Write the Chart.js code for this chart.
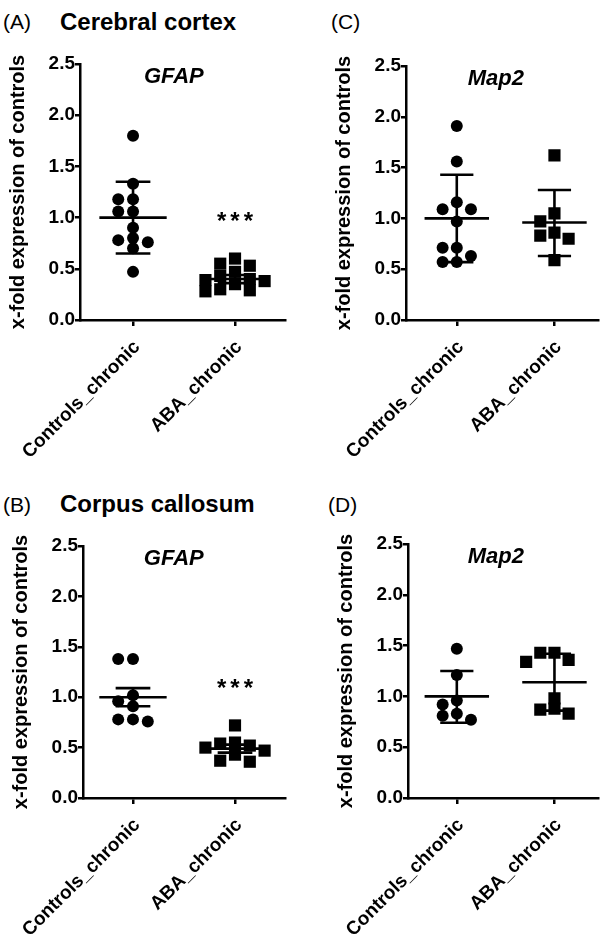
<!DOCTYPE html>
<html>
<head>
<meta charset="utf-8">
<script src="https://cdn.jsdelivr.net/npm/chart.js@4.4.1/dist/chart.umd.min.js"></script>
<style>
    body { margin: 0; background: #fff; }
    #fig { position: relative; width: 607px; height: 936px; overflow: hidden; font-family: Arial, "Liberation Sans", sans-serif; color: #000; }
    #fig canvas { position: absolute; }
    .tag { position: absolute; font-size: 21px; line-height: 21px; }
    .region { position: absolute; font-size: 24px; line-height: 24px; font-weight: bold; }
</style>
</head>
<body>
<div id="fig">
    <div class="tag" style="left:3px; top:11px;">(A)</div>
    <div class="region" style="left:60px; top:10px;">Cerebral cortex</div>
    <div class="tag" style="left:331px; top:11px;">(C)</div>
    <div class="tag" style="left:3px; top:494px;">(B)</div>
    <div class="region" style="left:60px; top:492px;">Corpus callosum</div>
    <div class="tag" style="left:328px; top:494px;">(D)</div>
    <canvas id="panelA" width="300" height="470" style="left:0; top:0;"></canvas>
    <canvas id="panelC" width="281" height="470" style="left:326px; top:0;"></canvas>
    <canvas id="panelB" width="297" height="466" style="left:3px; top:470px;"></canvas>
    <canvas id="panelD" width="279" height="466" style="left:328px; top:470px;"></canvas>
</div>
<script>
const FONT = 'Arial, "Liberation Sans", sans-serif';

// Categories and axis
const groups = ['Controls_chronic', 'ABA_chronic'];
const yTicks = [0, 0.5, 1.0, 1.5, 2.0, 2.5];
const yTitle = 'x-fold expression of controls';

// (A) Cerebral cortex - GFAP
const ctxGfapCtrl = [1.80, 1.33, 1.18, 1.18, 1.06, 1.06, 0.90, 0.80, 0.78, 0.76, 0.70, 0.47];
const ctxGfapAba = [0.60, 0.55, 0.53, 0.47, 0.43, 0.40, 0.39, 0.38, 0.35, 0.30, 0.29, 0.28];
const ctxGfapMean = [1.00, 0.40];
const ctxGfapErrHi = [1.35, 0.44];
const ctxGfapErrLo = [0.65, 0.36];

// (C) Cerebral cortex - Map2
const ctxMap2Ctrl = [1.91, 1.56, 1.16, 1.09, 1.09, 0.97, 0.71, 0.71, 0.63, 0.57, 0.57];
const ctxMap2Aba = [1.62, 1.05, 0.97, 0.86, 0.83, 0.80, 0.59];
const ctxMap2Mean = [1.00, 0.96];
const ctxMap2ErrHi = [1.43, 1.28];
const ctxMap2ErrLo = [0.57, 0.63];

// (B) Corpus callosum - GFAP
const ccGfapCtrl = [1.38, 1.38, 1.02, 0.96, 0.91, 0.78, 0.78, 0.76];
const ccGfapAba = [0.72, 0.55, 0.54, 0.52, 0.50, 0.47, 0.43, 0.37, 0.36];
const ccGfapMean = [1.00, 0.49];
const ccGfapErrHi = [1.09, 0.53];
const ccGfapErrLo = [0.91, 0.45];

// (D) Corpus callosum - Map2
const ccMap2Ctrl = [1.47, 1.21, 0.96, 0.92, 0.83, 0.81, 0.77];
const ccMap2Aba = [1.43, 1.43, 1.36, 1.34, 0.98, 0.88, 0.87, 0.83];
const ccMap2Mean = [1.00, 1.14];
const ccMap2ErrHi = [1.25, 1.42];
const ccMap2ErrLo = [0.74, 0.86];

// Spread points sideways so the markers don't pile up (like a dot plot)
function spread(values, center) {
    const step = 0.145;
    const minDist = 0.095;
    const placed = [];
    values.slice().sort((a, b) => b - a).forEach(v => {
        for (let k = 0; k < 11; k++) {
            const dx = Math.ceil(k / 2) * (k % 2 ? -1 : 1) * step;
            const hit = placed.some(p => Math.hypot(p.dx - dx, p.v - v) < minDist);
            if (!hit) {
                placed.push({ dx: dx, v: v });
                break;
            }
        }
    });
    return placed.map(p => ({ x: center + p.dx, y: p.v }));
}

// Black line segment as its own dataset
function segment(x1, y1, x2, y2) {
    return {
        data: [{ x: x1, y: y1 }, { x: x2, y: y2 }],
        showLine: true,
        borderColor: '#000',
        borderWidth: 2.6,
        pointRadius: 0
    };
}

// Gene name and significance stars
const panelText = {
    id: 'panelText',
    afterDraw(chart, args, opts) {
        const c = chart.ctx;
        const xs = chart.scales.x;
        const ys = chart.scales.y;
        c.save();
        c.fillStyle = '#000';
        c.textAlign = 'center';
        c.textBaseline = 'middle';
        c.font = 'italic bold 22px ' + FONT;
        c.fillText(opts.gene, xs.getPixelForValue(1.4), ys.getPixelForValue(2.37));
        if (opts.stars) {
            c.font = 'bold 24px ' + FONT;
            c.textBaseline = 'alphabetic';
            c.letterSpacing = '4px';
            c.fillText(opts.stars, xs.getPixelForValue(2) + 2, ys.getPixelForValue(opts.starsAt) + 14);
        }
        c.restore();
    }
};

function buildPanel(id, ctrl, aba, mean, errHi, errLo, gene, stars, box) {
    const datasets = [];
    [ctrl, aba].forEach((vals, g) => {
        const c = g + 1;
        datasets.push({
            data: spread(vals, c),
            pointStyle: g ? 'rect' : 'circle',
            pointRadius: g ? 8.6 : 6,
            backgroundColor: '#000',
            borderWidth: 0
        });
        datasets.push(segment(c - 0.33, mean[g], c + 0.33, mean[g]));
        datasets.push(segment(c, errLo[g], c, errHi[g]));
        datasets.push(segment(c - 0.17, errHi[g], c + 0.17, errHi[g]));
        datasets.push(segment(c - 0.17, errLo[g], c + 0.17, errLo[g]));
    });

    const axisLine = { color: '#000', width: 2.5 };

    return new Chart(document.getElementById(id), {
        type: 'scatter',
        data: { datasets: datasets },
        plugins: [panelText],
        options: {
            responsive: false,
            animation: false,
            layout: { padding: { top: box.top, right: box.right, left: 0, bottom: 0 } },
            plugins: {
                legend: { display: false },
                tooltip: { enabled: false },
                panelText: { gene: gene, stars: stars, starsAt: Math.max(...aba) + 0.43 }
            },
            scales: {
                x: {
                    type: 'linear',
                    min: box.xMin,
                    max: box.xMax,
                    afterBuildTicks: s => { s.ticks = [{ value: 1 }, { value: 2 }]; },
                    // rotated labels hang left of the axis; keep them from pushing the plot over
                    afterFit: s => {
                        s.height = box.xHeight;
                        s.paddingLeft = 0;
                        s.paddingRight = 0;
                    },
                    ticks: {
                        autoSkip: false,
                        minRotation: 45,
                        maxRotation: 45,
                        labelOffset: 4,
                        padding: 10,
                        color: '#000',
                        font: { family: FONT, size: 19, weight: 'bold' },
                        callback: v => groups[v - 1]
                    },
                    grid: { drawOnChartArea: false, color: '#000', lineWidth: 2.5, tickLength: 6 },
                    border: axisLine
                },
                y: {
                    min: 0,
                    max: 2.5,
                    afterBuildTicks: s => { s.ticks = yTicks.map(v => ({ value: v })); },
                    afterFit: s => { s.width = 80; },
                    ticks: {
                        padding: 0,
                        color: '#000',
                        font: { family: FONT, size: 19, weight: 'bold' },
                        callback: v => v.toFixed(1)
                    },
                    grid: { drawOnChartArea: false, color: '#000', lineWidth: 2.5, tickLength: 5 },
                    border: axisLine,
                    title: {
                        display: true,
                        text: yTitle,
                        color: '#000',
                        font: { family: FONT, size: 20, weight: 'bold' },
                        padding: { top: 6, bottom: 0 }
                    }
                }
            }
        }
    });
}

buildPanel('panelA', ctxGfapCtrl, ctxGfapAba, ctxGfapMean, ctxGfapErrHi, ctxGfapErrLo, 'GFAP', '***',
    { top: 64, right: 15, xHeight: 150, xMin: 0.48, xMax: 2.49 });
buildPanel('panelC', ctxMap2Ctrl, ctxMap2Aba, ctxMap2Mean, ctxMap2ErrHi, ctxMap2ErrLo, 'Map2', '',
    { top: 66, right: 0, xHeight: 150, xMin: 0.48, xMax: 2.45 });
buildPanel('panelB', ccGfapCtrl, ccGfapAba, ccGfapMean, ccGfapErrHi, ccGfapErrLo, 'GFAP', '***',
    { top: 76, right: 15, xHeight: 138, xMin: 0.51, xMax: 2.49 });
buildPanel('panelD', ccMap2Ctrl, ccMap2Aba, ccMap2Mean, ccMap2ErrHi, ccMap2ErrLo, 'Map2', '',
    { top: 74, right: 0, xHeight: 138, xMin: 0.50, xMax: 2.45 });
</script>
</body>
</html>
